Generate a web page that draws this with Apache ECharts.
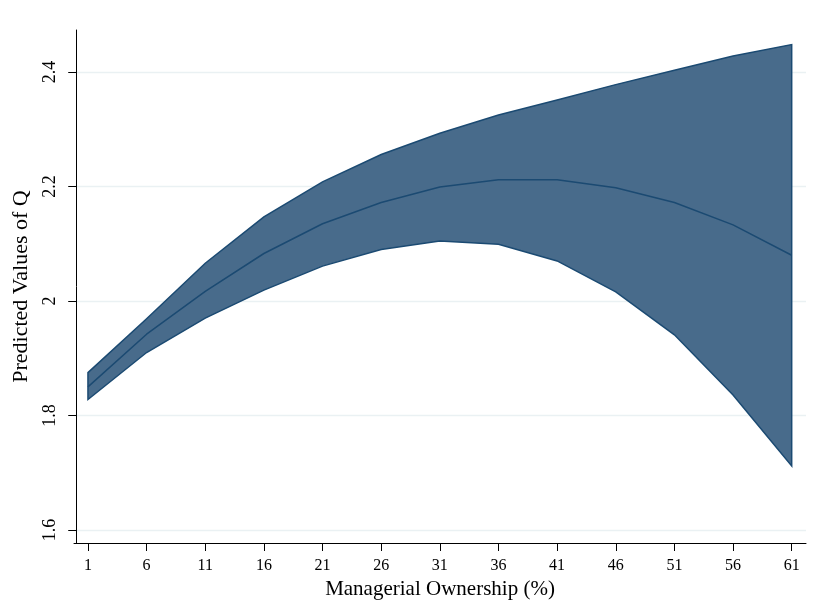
<!DOCTYPE html>
<html>
<head>
<meta charset="utf-8">
<script src="https://cdn.jsdelivr.net/npm/echarts@6/dist/echarts.min.js"></script>
<style>html,body{margin:0;padding:0;background:#fff}#c{width:817px;height:616px}</style>
</head>
<body>
<div id="c"></div>
<script>
const ownership = [1, 6, 11, 16, 21, 26, 31, 36, 41, 46, 51, 56, 61];
const upperCI = [1.875, 1.969, 2.066, 2.147, 2.208, 2.256, 2.293, 2.325, 2.351, 2.378, 2.403, 2.428, 2.448];
const predicted = [1.850, 1.942, 2.017, 2.083, 2.135, 2.172, 2.199, 2.212, 2.212, 2.198, 2.172, 2.133, 2.080];
const lowerCI = [1.828, 1.910, 1.970, 2.019, 2.061, 2.090, 2.105, 2.099, 2.070, 2.016, 1.941, 1.836, 1.712];
const xTicks = [1, 6, 11, 16, 21, 26, 31, 36, 41, 46, 51, 56, 61];
const yTicks = [1.6, 1.8, 2.0, 2.2, 2.4];

const font = 'Liberation Serif';
const chart = echarts.init(document.getElementById('c'), null, {renderer: 'canvas'});
chart.setOption({
  animation: false,
  backgroundColor: '#fff',
  grid: {left: 74, right: 11, top: 30, bottom: 73, containLabel: false, outerBoundsMode: 'none'},
  xAxis: {
    type: 'value', min: -0.19, max: 62.22,
    name: 'Managerial Ownership (%)', nameLocation: 'middle', nameGap: 29,
    nameTextStyle: {fontFamily: font, fontSize: 21, color: '#000'},
    axisLine: {show: true, lineStyle: {color: '#000', width: 1}},
    axisTick: {show: true, length: 8, lineStyle: {color: '#000'}, customValues: xTicks},
    axisLabel: {fontFamily: font, fontSize: 16, color: '#000', margin: 15, customValues: xTicks},
    splitLine: {show: false}
  },
  yAxis: {
    type: 'value', min: 1.5773, max: 2.4734,
    name: 'Predicted Values of Q', nameLocation: 'middle', nameGap: 42,
    nameTextStyle: {fontFamily: font, fontSize: 22, color: '#000'},
    axisLine: {show: true, lineStyle: {color: '#000', width: 1}},
    axisTick: {show: true, length: 8, lineStyle: {color: '#000'}, customValues: yTicks},
    axisLabel: {fontFamily: font, fontSize: 18, color: '#000', margin: 15, rotate: 90, customValues: yTicks,
      formatter: v => String(Math.round(v * 10) / 10)},
    splitLine: {show: true, lineStyle: {color: '#eaf1f3', width: 1.3}}
  },
  series: [
    {
      type: 'custom',
      data: [0],
      renderItem: function (params, api) {
        const pts = [];
        for (let i = 0; i < ownership.length; i++) pts.push(api.coord([ownership[i], upperCI[i]]));
        for (let i = ownership.length - 1; i >= 0; i--) pts.push(api.coord([ownership[i], lowerCI[i]]));
        return {
          type: 'polygon',
          shape: {points: pts},
          style: {fill: '#486b8b', stroke: '#1b4a72', lineWidth: 1.5}
        };
      },
      silent: true, z: 2
    },
    {
      type: 'line',
      data: ownership.map((x, i) => [x, predicted[i]]),
      showSymbol: false, symbol: 'none',
      lineStyle: {color: '#1b4a72', width: 1.5},
      z: 3
    }
  ]
});
</script>
</body>
</html>
